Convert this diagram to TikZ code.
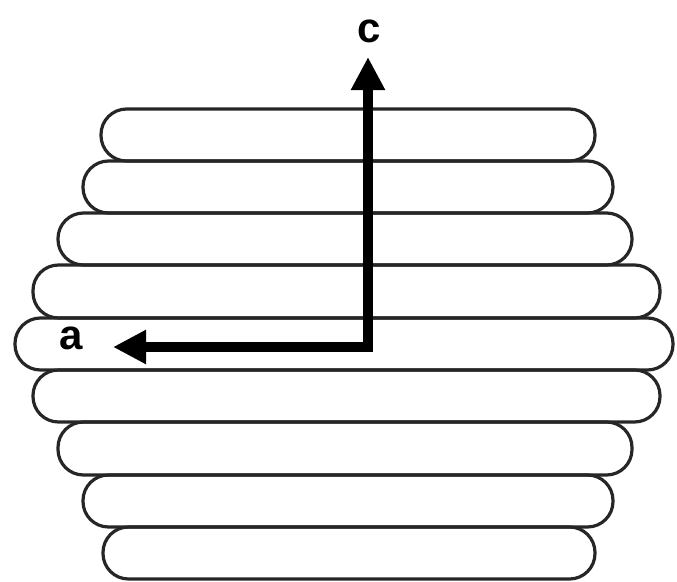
\documentclass[tikz,border=0pt]{standalone}
\usepackage{fontspec}
\setmainfont{Liberation Sans}
\usetikzlibrary{arrows.meta}
\begin{document}
\begin{tikzpicture}[x=1pt,y=-1pt,
  bar/.style={draw=black!85,line width=3.2pt,rounded corners=25.5pt},
  axis/.style={line width=9.5pt,line join=miter,
    {Triangle[length=33pt,width=32pt]}-{Triangle[length=33pt,width=32pt]}},
  lbl/.style={font=\fontsize{42}{50}\selectfont\bfseries,inner sep=0pt}]
\useasboundingbox (0,0) rectangle (677,581);
% stacked bars: (left, top, right, bottom)
\draw[bar] (101,109) rectangle (595,161);
\draw[bar] (83,161) rectangle (613,213);
\draw[bar] (58,213) rectangle (632,265);
\draw[bar] (33,265) rectangle (660,318);
\draw[bar] (15,318) rectangle (673,370);
\draw[bar] (33,370) rectangle (660,422);
\draw[bar] (58,422) rectangle (632,475);
\draw[bar] (83,475) rectangle (613,527);
\draw[bar] (103,527) rectangle (595,579);
% axes
\coordinate (o) at (368,347);
\coordinate (ctip) at (368,57);
\coordinate (atip) at (113,347);
\draw[axis] (atip) -- (o) -- (ctip);
\node[lbl] (c) at (369,31) {c};
\node[lbl] (a) at (71,338) {a};
\end{tikzpicture}
\end{document}
